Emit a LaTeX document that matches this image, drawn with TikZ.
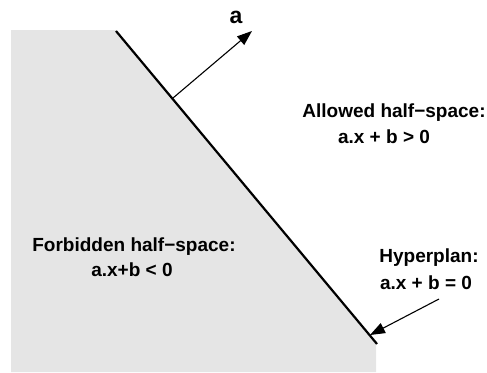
\documentclass[tikz,border=0pt]{standalone}
\usepackage{fontspec}
\setmainfont{Liberation Sans}
\usetikzlibrary{arrows.meta}
\definecolor{regiongray}{HTML}{E5E5E5}
\tikzset{
  lbl/.style={font=\bfseries\fontsize{19}{23}\selectfont, inner sep=0pt},
  biglbl/.style={font=\bfseries\fontsize{23}{27}\selectfont, inner sep=0pt},
  ptr/.style={line width=1.1pt, -{Triangle[length=15pt,width=11pt]}},
  hyper/.style={line width=2.2pt}
}
\begin{document}
\begin{tikzpicture}[x=1pt,y=-1pt]
\useasboundingbox (0,0) rectangle (487,372);
\fill[regiongray] (11,30) -- (116,30) -- (376,343) -- (376,372) -- (11,372) -- cycle;
\coordinate (h1) at (116,31);
\coordinate (h2) at (377,344);
\draw[hyper] (h1) -- (h2);
\coordinate (astart) at (173,98);
\coordinate (aend) at (252,31);
\draw[ptr] (astart) -- (aend);
\node[biglbl] (alabel) at (236,17) {a};
\node[lbl] (allowed1) at (394,113) {Allowed half−space:};
\node[lbl] (allowed2) at (384,137) {a.x + b > 0};
\node[lbl] (forb1) at (134,247) {Forbidden half−space:};
\node[lbl] (forb2) at (132,270) {a.x+b < 0};
\node[lbl] (hyp1) at (429,258) {Hyperplan:};
\node[lbl] (hyp2) at (426,283) {a.x + b = 0};
\coordinate (hstart) at (439,299);
\coordinate (hend) at (370,335);
\draw[ptr] (hstart) -- (hend);
\end{tikzpicture}
\end{document}
